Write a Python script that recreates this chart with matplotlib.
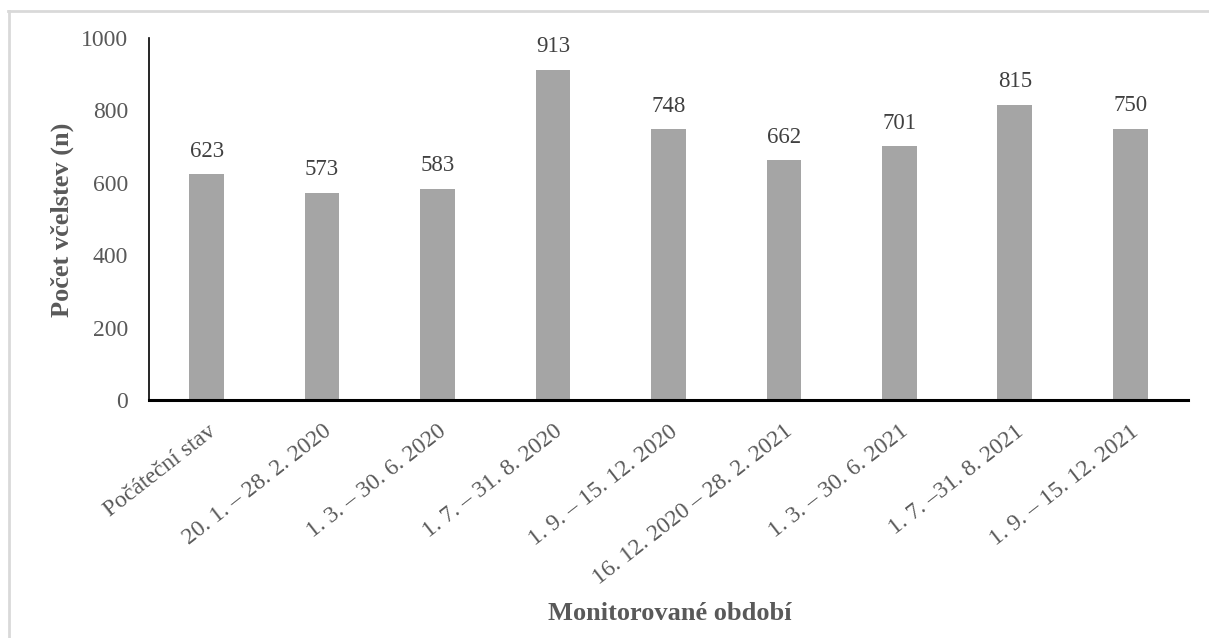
import matplotlib
matplotlib.use("Agg")
import matplotlib.pyplot as plt
from matplotlib.lines import Line2D

categories = [
    "Počáteční stav",
    "20. 1. – 28. 2. 2020",
    "1. 3. – 30. 6. 2020",
    "1. 7. – 31. 8. 2020",
    "1. 9. – 15. 12. 2020",
    "16. 12. 2020 – 28. 2. 2021",
    "1. 3. – 30. 6. 2021",
    "1. 7. –31. 8. 2021",
    "1. 9. – 15. 12. 2021",
]
colonies = [623, 573, 583, 913, 748, 662, 701, 815, 750]
y_ticks = [0, 200, 400, 600, 800, 1000]

plt.rcParams["font.family"] = ["Liberation Serif", "DejaVu Serif"]

fig = plt.figure(figsize=(12.09, 6.38), dpi=100)
ax = fig.add_axes([0.1232, 0.3730, 0.9826 - 0.1232, 0.9404 - 0.3730])

x = list(range(len(categories)))
ax.bar(x, colonies, width=0.30, color="#a5a5a5", zorder=2)

for xi, v in zip(x, colonies):
    ax.annotate(f"{v}", (xi, v), xytext=(0, 9), textcoords="offset points",
                ha="center", va="bottom", fontsize=16.5, color="#404040")

ax.set_xlim(-0.5, len(categories) - 0.5)
ax.set_ylim(0, 1000)
ax.set_yticks(y_ticks)
ax.set_yticklabels([str(t) for t in y_ticks], fontsize=17, color="#595959")
ax.set_xticks(x)
ax.set_xticklabels(categories, rotation=38, ha="right", va="top",
                   rotation_mode="anchor", fontsize=17, color="#595959")
ax.tick_params(axis="both", length=0)
ax.tick_params(axis="y", pad=15)
ax.tick_params(axis="x", pad=15)

for side in ("top", "right"):
    ax.spines[side].set_visible(False)
ax.spines["left"].set_linewidth(1.2)
ax.spines["left"].set_color("black")
ax.spines["bottom"].set_linewidth(2.2)
ax.spines["bottom"].set_color("black")

fig.text(62 / 1209, 1 - 220 / 638, "Počet včelstev (n)", fontsize=19,
         fontweight="bold", color="#595959", rotation=90,
         ha="center", va="center")
fig.text(670 / 1209, 1 - 613 / 638, "Monitorované období", fontsize=19,
         fontweight="bold", color="#595959", ha="center", va="center")

# light frame along the top and left edges of the figure
fig.add_artist(Line2D([8 / 1209, 1], [1 - 11 / 638, 1 - 11 / 638],
                      transform=fig.transFigure, color="#d9d9d9", lw=2))
fig.add_artist(Line2D([9 / 1209, 9 / 1209], [0, 1 - 11 / 638],
                      transform=fig.transFigure, color="#d9d9d9", lw=2))

fig.savefig("out.png", dpi=100, facecolor="white")
